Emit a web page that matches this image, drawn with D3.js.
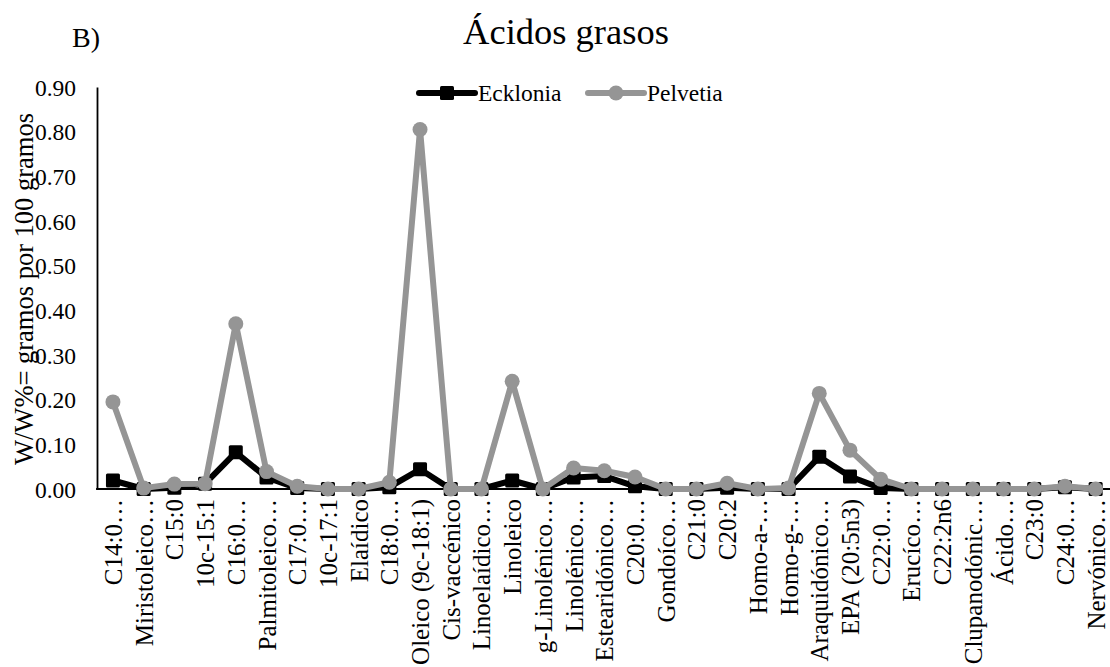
<!DOCTYPE html>
<html>
<head>
<meta charset="utf-8">
<script src="https://cdn.jsdelivr.net/npm/d3@7"></script>
<style>
  html, body { margin: 0; padding: 0; background: #fff; }
  svg { display: block; }
  svg text { font-family: "Liberation Serif", "Times New Roman", serif !important; }
</style>
</head>
<body>
<svg id="chart" width="1110" height="667"></svg>
<script>
// Fatty-acid names along the x axis (long names are shortened with an ellipsis)
const categories = [
  "C14:0…", "Miristoleico…", "C15:0", "10c-15:1", "C16:0…", "Palmitoleico…",
  "C17:0…", "10c-17:1", "Elaídico", "C18:0…", "Oleico (9c-18:1)", "Cis-vaccénico",
  "Linoelaídico…", "Linoleico", "g-Linolénico…", "Linolénico…", "Estearidónico…",
  "C20:0…", "Gondoíco…", "C21:0", "C20:2", "Homo-a-…", "Homo-g-…", "Araquidónico…",
  "EPA (20:5n3)", "C22:0…", "Erucíco…", "C22:2n6", "Clupanodónic…", "Ácido…",
  "C23:0", "C24:0…", "Nervónico…"
];

// W/W% (grams per 100 grams)
const ecklonia = [
  0.019, 0.000, 0.003, 0.012, 0.082, 0.026,
  0.002, 0.000, 0.000, 0.004, 0.044, 0.000,
  0.000, 0.019, 0.000, 0.026, 0.029,
  0.006, 0.000, 0.000, 0.003, 0.000, 0.000, 0.072,
  0.028, 0.002, 0.000, 0.000, 0.000, 0.000,
  0.000, 0.004, 0.000
];
const pelvetia = [
  0.195, 0.002, 0.011, 0.012, 0.370, 0.039,
  0.006, 0.000, 0.000, 0.015, 0.805, 0.000,
  0.000, 0.241, 0.000, 0.047, 0.041,
  0.027, 0.000, 0.000, 0.013, 0.000, 0.002, 0.214,
  0.087, 0.022, 0.000, 0.000, 0.000, 0.000,
  0.000, 0.006, 0.000
];

const yTicks = [0, 0.1, 0.2, 0.3, 0.4, 0.5, 0.6, 0.7, 0.8, 0.9];
const seriesNames = ["Ecklonia", "Pelvetia"];

const FONT = "'Liberation Serif', 'Times New Roman', serif";
const svg = d3.select("#chart").style("font-family", FONT);
const plot = { left: 97.6, right: 1111, top: 87, bottom: 489 };

const x = d3.scalePoint().domain(categories).range([plot.left, plot.right]).padding(0.5);
const y = d3.scaleLinear().domain([0, 0.9]).range([plot.bottom, plot.top]);

const BLACK = "#000000";
const GREY = "#959595";

// Panel letter and title
svg.append("text").attr("x", 72).attr("y", 47)
  .attr("font-size", 28).attr("fill", "#000").style("font-family", FONT).text("B)");
svg.append("text").attr("x", 566).attr("y", 44).attr("text-anchor", "middle")
  .attr("font-size", 36.5).attr("fill", "#000").style("font-family", FONT).text("Ácidos grasos");

// Y axis: line plus labels only
const yAxis = d3.axisLeft(y).tickValues(yTicks).tickFormat(d3.format(".2f")).tickSize(0).tickPadding(21);
const gy = svg.append("g").attr("transform", `translate(${plot.left - 0.6},0)`).call(yAxis)
  .attr("font-family", null);
gy.select(".domain").attr("stroke", BLACK).attr("stroke-width", 1.8);
gy.selectAll("text").attr("font-size", 23.5).attr("fill", "#000")
  .style("font-family", FONT).attr("dy", "0.35em");

// X axis: baseline and rotated category labels
const xAxis = d3.axisBottom(x).tickSize(0).tickPadding(0);
const gx = svg.append("g").attr("transform", `translate(0,${plot.bottom})`).call(xAxis)
  .attr("font-family", null);
gx.select(".domain").attr("stroke", BLACK).attr("stroke-width", 1.8)
  .attr("d", `M${plot.left - 1.5},0H1110`);
gx.selectAll("text")
  .attr("font-size", 25).attr("fill", "#000")
  .style("font-family", FONT)
  .attr("transform", "rotate(-90)")
  .attr("text-anchor", "end")
  .attr("x", -10).attr("y", 0).attr("dy", "0.34em");

// Y axis title
svg.append("text")
  .attr("transform", `translate(33,${(plot.top + plot.bottom) / 2 + 1}) rotate(-90)`)
  .attr("text-anchor", "middle").attr("font-size", 26.5).attr("fill", "#000")
  .style("font-family", FONT)
  .text("W/W%= gramos por 100 gramos");

const line = d3.line().x((d, i) => x(categories[i])).y(d => y(d));

// Ecklonia: black line with square markers
svg.append("path").datum(ecklonia).attr("d", line)
  .attr("fill", "none").attr("stroke", BLACK).attr("stroke-width", 6).attr("stroke-linejoin", "round");
svg.append("g").selectAll("rect").data(ecklonia).join("rect")
  .attr("x", (d, i) => x(categories[i]) - 7).attr("y", d => y(d) - 7)
  .attr("width", 14).attr("height", 14).attr("rx", 1.5).attr("fill", BLACK);

// Pelvetia: grey line with round markers
svg.append("path").datum(pelvetia).attr("d", line)
  .attr("fill", "none").attr("stroke", GREY).attr("stroke-width", 6).attr("stroke-linejoin", "round");
svg.append("g").selectAll("circle").data(pelvetia).join("circle")
  .attr("cx", (d, i) => x(categories[i])).attr("cy", d => y(d))
  .attr("r", 7.5).attr("fill", GREY);

// Legend
const legend = [
  { name: seriesNames[0], color: BLACK, shape: "square", x0: 419 },
  { name: seriesNames[1], color: GREY, shape: "circle", x0: 588 }
];
const ly = 93;
legend.forEach(l => {
  const g = svg.append("g");
  g.append("line").attr("x1", l.x0).attr("x2", l.x0 + 56).attr("y1", ly).attr("y2", ly)
    .attr("stroke", l.color).attr("stroke-width", 6).attr("stroke-linecap", "round");
  if (l.shape === "square") {
    g.append("rect").attr("x", l.x0 + 21).attr("y", ly - 7).attr("width", 14).attr("height", 14)
      .attr("rx", 1.5).attr("fill", l.color);
  } else {
    g.append("circle").attr("cx", l.x0 + 28).attr("cy", ly).attr("r", 7.5).attr("fill", l.color);
  }
  g.append("text").attr("x", l.x0 + 59).attr("y", ly).attr("dy", "0.35em")
    .attr("font-size", 23.5).attr("fill", "#000").style("font-family", FONT).text(l.name);
});
</script>
</body>
</html>
